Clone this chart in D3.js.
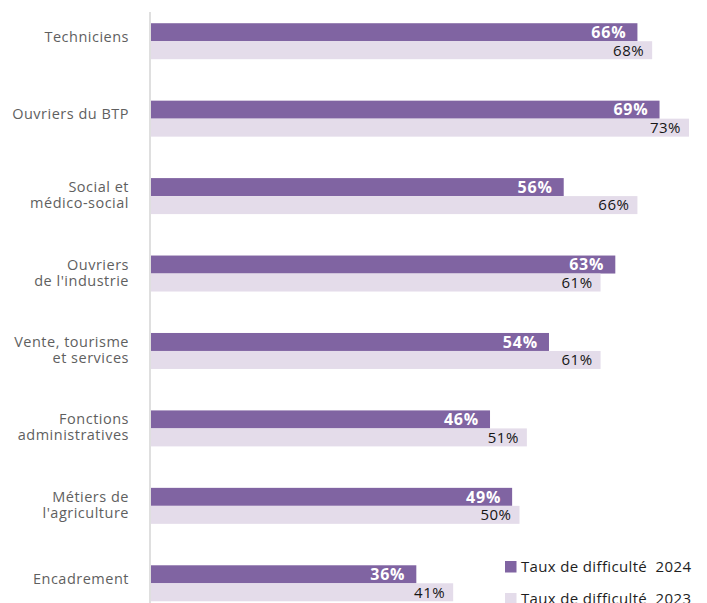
<!DOCTYPE html>
<html>
<head>
<meta charset="utf-8">
<script src="https://cdn.jsdelivr.net/npm/d3@7"></script>
<style>
  html, body { margin: 0; padding: 0; background: #fff; }
  svg { display: block; font-family: "Open Sans", "Noto Sans", sans-serif; }
</style>
</head>
<body>
<svg id="chart" width="707" height="603"></svg>
<script>
const categories = [
  ["Techniciens"],
  ["Ouvriers du BTP"],
  ["Social et", "médico-social"],
  ["Ouvriers", "de l'industrie"],
  ["Vente, tourisme", "et services"],
  ["Fonctions", "administratives"],
  ["Métiers de", "l'agriculture"],
  ["Encadrement"]
];
const values2024 = [66, 69, 56, 63, 54, 46, 49, 36];
const values2023 = [68, 73, 66, 61, 61, 51, 50, 41];
const seriesNames = ["Taux de difficulté  2024", "Taux de difficulté  2023"];
const colors = ["#8064a2", "#e4dcea"];

const svg = d3.select("#chart");
const keys = categories.map(c => c.join(" "));

const x = d3.scaleLinear().domain([0, 100]).range([151, 888]);
const y = d3.scaleBand().domain(keys).range([2.5, 622]).paddingInner(0.5352).paddingOuter(0.2676);
const ySub = d3.scaleBand().domain(["2024", "2023"]).range([0, y.bandwidth()]);

// axis line
svg.append("line")
  .attr("x1", 150).attr("x2", 150).attr("y1", 12).attr("y2", 603)
  .attr("stroke", "#d4d4d4").attr("stroke-width", 1.5);

const data = keys.map((k, i) => ({ key: k, lines: categories[i], v24: values2024[i], v23: values2023[i] }));

const g = svg.selectAll("g.cat").data(data).join("g")
  .attr("class", "cat")
  .attr("transform", d => `translate(0,${y(d.key)})`);

g.append("rect")
  .attr("x", x(0)).attr("y", ySub("2024"))
  .attr("width", d => x(d.v24) - x(0)).attr("height", ySub.bandwidth())
  .attr("fill", colors[0]);
g.append("rect")
  .attr("x", x(0)).attr("y", ySub("2023"))
  .attr("width", d => x(d.v23) - x(0)).attr("height", ySub.bandwidth())
  .attr("fill", colors[1]);

g.append("text")
  .attr("x", d => x(d.v24) - 11)
  .attr("y", ySub("2024") + ySub.bandwidth() / 2)
  .attr("dy", "0.36em")
  .attr("text-anchor", "end")
  .attr("fill", "#fff").attr("font-weight", 700).attr("font-size", 16)
  .attr("letter-spacing", 0.8)
  .text(d => d.v24 + "%");
g.append("text")
  .attr("x", d => x(d.v23) - 8)
  .attr("y", ySub("2023") + ySub.bandwidth() / 2)
  .attr("dy", "0.36em")
  .attr("text-anchor", "end")
  .attr("fill", "#161616").attr("font-size", 15)
  .attr("letter-spacing", 0.5)
  .text(d => d.v23 + "%");

// category labels
g.append("text")
  .attr("text-anchor", "end")
  .attr("fill", "#5f5f5f").attr("font-size", 14.5)
  .attr("letter-spacing", 0.5)
  .each(function(d) {
    const t = d3.select(this);
    const n = d.lines.length;
    const mid = y.bandwidth() / 2;
    d.lines.forEach((line, j) => {
      t.append("tspan")
        .attr("x", 129)
        .attr("y", mid + (n === 1 ? 0.5 : -4 + j * 16))
        .text(line);
    });
  });

// legend
const leg = svg.append("g");
seriesNames.forEach((name, i) => {
  const ly = 561 + i * 32;
  leg.append("rect").attr("x", 505).attr("y", ly).attr("width", 11.5).attr("height", 11.5).attr("fill", colors[i]);
  leg.append("text").attr("x", 521).attr("y", ly + 10.8)
    .attr("fill", "#1e1e1e").attr("font-size", 15)
    .attr("letter-spacing", 0.35)
    .style("white-space", "pre")
    .text(name);
});
</script>
</body>
</html>
